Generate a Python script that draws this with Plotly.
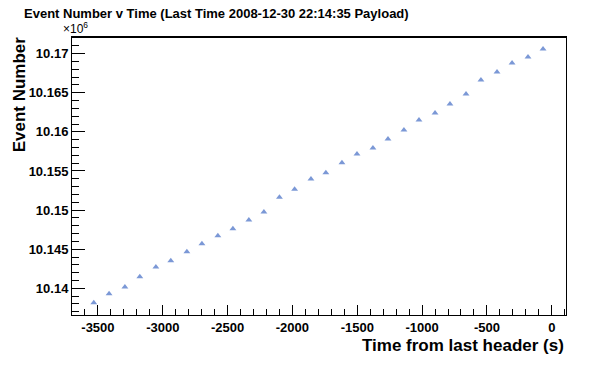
import plotly.graph_objects as go

# Data
time_s = [-3532, -3414, -3292, -3177, -3053, -2938, -2814, -2698, -2575, -2459,
          -2336, -2220, -2100, -1983, -1857, -1742, -1618, -1502, -1379, -1263,
          -1140, -1024, -900, -785, -661, -546, -422, -306, -183, -67]
event_num = [10138160, 10139309, 10140165, 10141480, 10142718, 10143522, 10144671,
             10145693, 10146714, 10147607, 10148718, 10149739, 10151655, 10152676,
             10153978, 10154757, 10156033, 10157182, 10157948, 10159097, 10160246,
             10161523, 10162417, 10163566, 10164842, 10166630, 10167651, 10168800,
             10169566, 10170587]

x_tick_labels = ["-3500", "-3000", "-2500", "-2000", "-1500", "-1000", "-500", "0"]
y_tick_labels = ["10.14", "10.145", "10.15", "10.155", "10.16", "10.165", "10.17"]

x_tick_vals = [float(t) for t in x_tick_labels]
y_tick_vals = [float(t) * 1e6 for t in y_tick_labels]

FONT = "Liberation Sans, Arial, Helvetica, sans-serif"

fig = go.Figure()
fig.add_trace(go.Scatter(
    x=time_s, y=event_num, mode="markers",
    marker=dict(symbol="triangle-up", size=6, color="#7b98d6", line=dict(width=0)),
    showlegend=False,
))

fig.update_layout(
    width=596, height=372,
    paper_bgcolor="white", plot_bgcolor="white",
    margin=dict(l=72, r=30, t=37, b=57),
    font=dict(family=FONT, color="black"),
    xaxis=dict(
        range=[-3700, 110],
        tickvals=x_tick_vals, ticktext=x_tick_labels,
        ticks="inside", ticklen=10, tickwidth=1, tickcolor="black",
        minor=dict(ticks="inside", ticklen=6, dtick=100, tick0=0, tickcolor="black", tickwidth=1),
        showgrid=False, zeroline=False,
        showline=True, linecolor="black", linewidth=1, mirror=True,
        tickfont=dict(family=FONT, size=13, color="black", weight="bold"),
    ),
    yaxis=dict(
        range=[10136591, 10172119],
        tickvals=y_tick_vals, ticktext=y_tick_labels,
        ticks="inside", ticklen=13, tickwidth=1, tickcolor="black",
        minor=dict(ticks="inside", ticklen=7, dtick=1000, tick0=10140000, tickcolor="black", tickwidth=1),
        showgrid=False, zeroline=False,
        showline=True, linecolor="black", linewidth=1, mirror=True,
        tickfont=dict(family=FONT, size=13, color="black", weight="bold"),
    ),
)

fig.add_shape(type="line", xref="paper", yref="paper", x0=0, x1=1, y0=1, y1=1,
              line=dict(color="black", width=2))

fig.add_annotation(
    text="Event Number v Time (Last Time 2008-12-30 22:14:35 Payload)",
    xref="paper", yref="paper", x=-0.101, y=1.085, xanchor="left", yanchor="middle",
    showarrow=False, font=dict(family=FONT, size=13, color="black", weight="bold"),
)
fig.add_annotation(
    text="×10<sup>6</sup>",
    xref="paper", yref="paper", x=-0.022, y=0.998, xanchor="left", yanchor="bottom",
    showarrow=False, font=dict(family=FONT, size=12, color="black"),
)
fig.add_annotation(
    text="Event Number",
    xref="paper", yref="paper", x=-0.107, y=1.01, xanchor="center", yanchor="top",
    textangle=-90, showarrow=False,
    font=dict(family=FONT, size=17, color="black", weight="bold"),
)
fig.add_annotation(
    text="Time from last header (s)",
    xref="paper", yref="paper", x=1.0, y=-0.108, xanchor="right", yanchor="middle",
    showarrow=False, font=dict(family=FONT, size=17, color="black", weight="bold"),
)

fig.write_html("out.html", config={"displayModeBar": False},
               post_script="document.body.style.margin='0';document.body.style.overflow='hidden';")
